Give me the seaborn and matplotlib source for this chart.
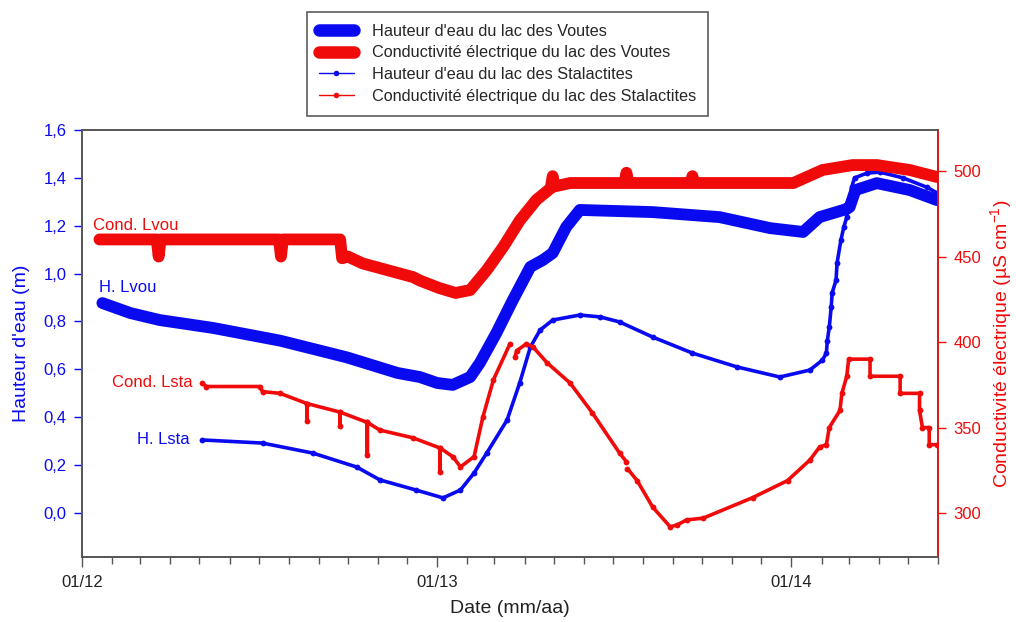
import numpy as np
import pandas as pd
import matplotlib
matplotlib.use("Agg")
import matplotlib.pyplot as plt
import matplotlib.dates as mdates
from matplotlib.lines import Line2D
from matplotlib.ticker import FuncFormatter, MultipleLocator
import seaborn as sns

# --- Hauteur d'eau, lac des Voutes (m) ---
h_lvou_dates = ["2012-01-22", "2012-02-20", "2012-03-21", "2012-05-15", "2012-07-23",
                "2012-09-30", "2012-11-21", "2012-12-14", "2013-01-01", "2013-01-17",
                "2013-02-04", "2013-02-14", "2013-03-03", "2013-03-20", "2013-04-07",
                "2013-04-20", "2013-04-30", "2013-05-14", "2013-05-28", "2013-08-11",
                "2013-10-19", "2013-12-10", "2014-01-13", "2014-01-30", "2014-02-27",
                "2014-03-02", "2014-03-08", "2014-03-30", "2014-05-03", "2014-05-31"]
h_lvou_vals = [0.877, 0.835, 0.806, 0.773, 0.720,
               0.650, 0.585, 0.568, 0.543, 0.535,
               0.568, 0.627, 0.752, 0.890, 1.028,
               1.057, 1.086, 1.195, 1.266, 1.257,
               1.236, 1.190, 1.174, 1.236, 1.270,
               1.278, 1.349, 1.378, 1.349, 1.307]

# --- Conductivité électrique, lac des Voutes (µS/cm) ---
c_lvou_dates = ["2012-01-19", "2012-03-18", "2012-03-20", "2012-03-22", "2012-07-22",
                "2012-07-24", "2012-07-26", "2012-09-23", "2012-09-25", "2012-10-01",
                "2012-10-16", "2012-12-07", "2012-12-14", "2013-01-03", "2013-01-20",
                "2013-02-04", "2013-02-21", "2013-03-10", "2013-03-27", "2013-04-13",
                "2013-04-28", "2013-04-30", "2013-05-02", "2013-05-18", "2013-07-13",
                "2013-07-15", "2013-07-17", "2013-09-19", "2013-09-21", "2013-09-23",
                "2013-11-22", "2014-01-03", "2014-02-02", "2014-03-05", "2014-03-30",
                "2014-05-03", "2014-05-31"]
c_lvou_vals = [460, 460, 450, 460, 460,
               450, 460, 460, 449, 450,
               446, 438, 436, 431.6, 428.7,
               430.4, 442, 455.6, 471, 483,
               490, 497, 491, 493, 493,
               499, 493, 493, 497, 493,
               493, 493, 500.6, 503.5, 503.5,
               500.6, 496.5]

# --- Hauteur d'eau, lac des Stalactites (m) ---
h_lsta_dates = ["2012-05-04", "2012-07-05", "2012-08-26", "2012-10-10", "2012-11-03",
                "2012-12-10", "2013-01-07", "2013-01-25", "2013-02-08", "2013-02-21",
                "2013-03-14", "2013-03-27", "2013-04-07", "2013-04-17", "2013-04-30",
                "2013-05-28", "2013-06-18", "2013-07-08", "2013-08-11", "2013-09-21",
                "2013-11-06", "2013-12-20", "2014-01-20", "2014-02-02", "2014-02-06",
                "2014-02-07", "2014-02-09", "2014-02-11", "2014-02-12", "2014-02-16",
                "2014-02-17", "2014-02-21", "2014-02-24", "2014-02-27", "2014-03-04",
                "2014-03-07", "2014-03-20", "2014-04-02", "2014-04-26", "2014-05-21",
                "2014-05-31"]
h_lsta_vals = [0.305, 0.292, 0.250, 0.192, 0.138,
               0.096, 0.063, 0.096, 0.167, 0.250,
               0.388, 0.543, 0.693, 0.764, 0.806,
               0.827, 0.819, 0.798, 0.735, 0.668,
               0.610, 0.568, 0.597, 0.639, 0.668,
               0.720, 0.777, 0.860, 0.920, 0.973,
               1.044, 1.140, 1.195, 1.236, 1.360,
               1.400, 1.420, 1.424, 1.400, 1.360,
               1.337]

# --- Conductivité électrique, lac des Stalactites (µS/cm); NaN marks a gap ---
c_lsta_dates = ["2012-05-04", "2012-05-08", "2012-07-02", "2012-07-05", "2012-07-23",
                "2012-08-20", "2012-08-20", "2012-08-20", "2012-09-23", "2012-09-23",
                "2012-09-23", "2012-10-21", "2012-10-21", "2012-10-21", "2012-11-03",
                "2012-12-07", "2013-01-04", "2013-01-04", "2013-01-04", "2013-01-17",
                "2013-01-25", "2013-02-08", "2013-02-17", "2013-02-28", "2013-03-17",
                "2013-03-19", "2013-03-22", "2013-03-24", "2013-04-03", "2013-04-10",
                "2013-04-24", "2013-05-18", "2013-06-10", "2013-07-08", "2013-07-15",
                "2013-07-15", "2013-07-16", "2013-07-26", "2013-08-11", "2013-08-29",
                "2013-09-05", "2013-09-15", "2013-10-02", "2013-11-22", "2013-12-28",
                "2014-01-20", "2014-01-30", "2014-02-06", "2014-02-09", "2014-02-20",
                "2014-02-22", "2014-02-27", "2014-03-01", "2014-03-23", "2014-03-23",
                "2014-04-23", "2014-04-23", "2014-05-13", "2014-05-13", "2014-05-16",
                "2014-05-23", "2014-05-23", "2014-05-31"]
c_lsta_vals = [376, 374, 374, 371, 370,
               364, 354, 364, 359, 351,
               359, 353, 334, 353, 348.5,
               344, 338, 324, 338, 333,
               327, 333, 356, 378, 399,
               np.nan, 391, 395, 399, 397,
               388, 376, 358.5, 335, 330,
               np.nan, 326, 319, 303.5, 292,
               293, 296, 297, 309, 319,
               331, 338.6, 340, 350, 360,
               370, 380, 390, 390, 380,
               380, 370, 370, 360, 350,
               350, 340, 340]

BLUE = "#0a0af0"
RED = "#f00a0a"
SPINE = "#555555"
TEXT = "#222222"

sns.set_style("white")
plt.rcParams["font.family"] = ["Liberation Sans", "DejaVu Sans"]
plt.rcParams["mathtext.fontset"] = "custom"
plt.rcParams["mathtext.rm"] = "Liberation Sans"
plt.rcParams["mathtext.it"] = "Liberation Sans:italic"


def to_frame(dates, vals):
    df = pd.DataFrame({"date": pd.to_datetime(dates), "val": np.asarray(vals, float)})
    df["seg"] = df["val"].isna().cumsum()
    return df.dropna().reset_index(drop=True)


fig = plt.figure(figsize=(10.16, 6.22), dpi=100)
ax = fig.add_axes([0.0807, 0.1045, 0.8425, 0.6865])
ax2 = ax.twinx()

thick = dict(lw=8.5, solid_capstyle="round", solid_joinstyle="round")
thin = dict(lw=2.6, marker="o", markersize=4.2, markeredgewidth=0,
            solid_capstyle="round", solid_joinstyle="round")

sns.lineplot(data=to_frame(h_lvou_dates, h_lvou_vals), x="date", y="val",
             units="seg", estimator=None, sort=False, color=BLUE, ax=ax,
             legend=False, **thick)
sns.lineplot(data=to_frame(h_lsta_dates, h_lsta_vals), x="date", y="val",
             units="seg", estimator=None, sort=False, color=BLUE, ax=ax,
             legend=False, **thin)
sns.lineplot(data=to_frame(c_lvou_dates, c_lvou_vals), x="date", y="val",
             units="seg", estimator=None, sort=False, color=RED, ax=ax2,
             legend=False, **thick)
sns.lineplot(data=to_frame(c_lsta_dates, c_lsta_vals), x="date", y="val",
             units="seg", estimator=None, sort=False, color=RED, ax=ax2,
             legend=False, **thin)

# Axis ranges
ax.set_xlim(pd.Timestamp("2012-01-01"), pd.Timestamp("2014-06-01"))
ax.set_ylim(-0.184, 1.6)
ax2.set_ylim(274.3, 524)

# X axis: yearly labels, monthly minor ticks
ax.xaxis.set_major_locator(mdates.YearLocator())
ax.xaxis.set_major_formatter(mdates.DateFormatter("%m/%y"))
ax.xaxis.set_minor_locator(mdates.MonthLocator())

ax.yaxis.set_major_locator(MultipleLocator(0.2))
ax.yaxis.set_major_formatter(FuncFormatter(lambda v, p: f"{v:.1f}".replace(".", ",").replace("-0,0", "0,0")))
ax2.set_yticks([300, 350, 400, 450, 500])

for a in (ax, ax2):
    for s in a.spines.values():
        s.set_color(SPINE)
        s.set_linewidth(1.2)
ax2.spines["right"].set_color(RED)

ax.tick_params(axis="x", which="major", direction="out", length=7, width=1,
               color=SPINE, labelcolor=TEXT, labelsize=12, pad=6, bottom=True)
ax.tick_params(axis="x", which="minor", direction="out", length=5, width=1,
               color=SPINE, bottom=True)
ax.tick_params(axis="y", direction="out", length=6, width=1, color=BLUE,
               labelcolor=BLUE, labelsize=12, pad=5, left=True)
ax2.tick_params(axis="y", direction="out", length=6, width=1, color=RED,
                labelcolor=RED, labelsize=12, pad=5, right=True)

ax.set_xlabel("Date (mm/aa)", fontsize=14, color=TEXT, labelpad=7)
ax.set_ylabel("Hauteur d'eau (m)", fontsize=14, color=BLUE, labelpad=10)
ax2.set_ylabel("Conductivité électrique (µS cm$^{-1}$)", fontsize=14,
               color=RED, labelpad=5)

# Series labels
labels = [("Cond. Lvou", "2012-01-12", 1.203, RED),
          ("H. Lvou", "2012-01-19", 0.944, BLUE),
          ("Cond. Lsta", "2012-02-01", 0.547, RED),
          ("H. Lsta", "2012-02-27", 0.305, BLUE)]
for txt, d, yv, col in labels:
    ax.text(mdates.date2num(pd.Timestamp(d)), yv, txt, color=col, fontsize=12,
            ha="left", va="center")

handles = [
    Line2D([], [], color=BLUE, lw=9, solid_capstyle="round"),
    Line2D([], [], color=RED, lw=9, solid_capstyle="round"),
    Line2D([], [], color=BLUE, lw=1, marker="o", markersize=4, markeredgewidth=0),
    Line2D([], [], color=RED, lw=1, marker="o", markersize=4, markeredgewidth=0),
]
names = ["Hauteur d'eau du lac des Voutes",
         "Conductivité électrique du lac des Voutes",
         "Hauteur d'eau du lac des Stalactites",
         "Conductivité électrique du lac des Stalactites"]
leg = fig.legend(handles, names, loc="upper center", bbox_to_anchor=(0.4995, 0.981),
                 frameon=True, fancybox=False, edgecolor="#333333", fontsize=11.7,
                 handlelength=2.2, labelspacing=0.42, borderpad=0.72,
                 handletextpad=1.1, borderaxespad=0)
leg.get_frame().set_linewidth(1.2)

fig.savefig("out.png", dpi=100, facecolor="white")
